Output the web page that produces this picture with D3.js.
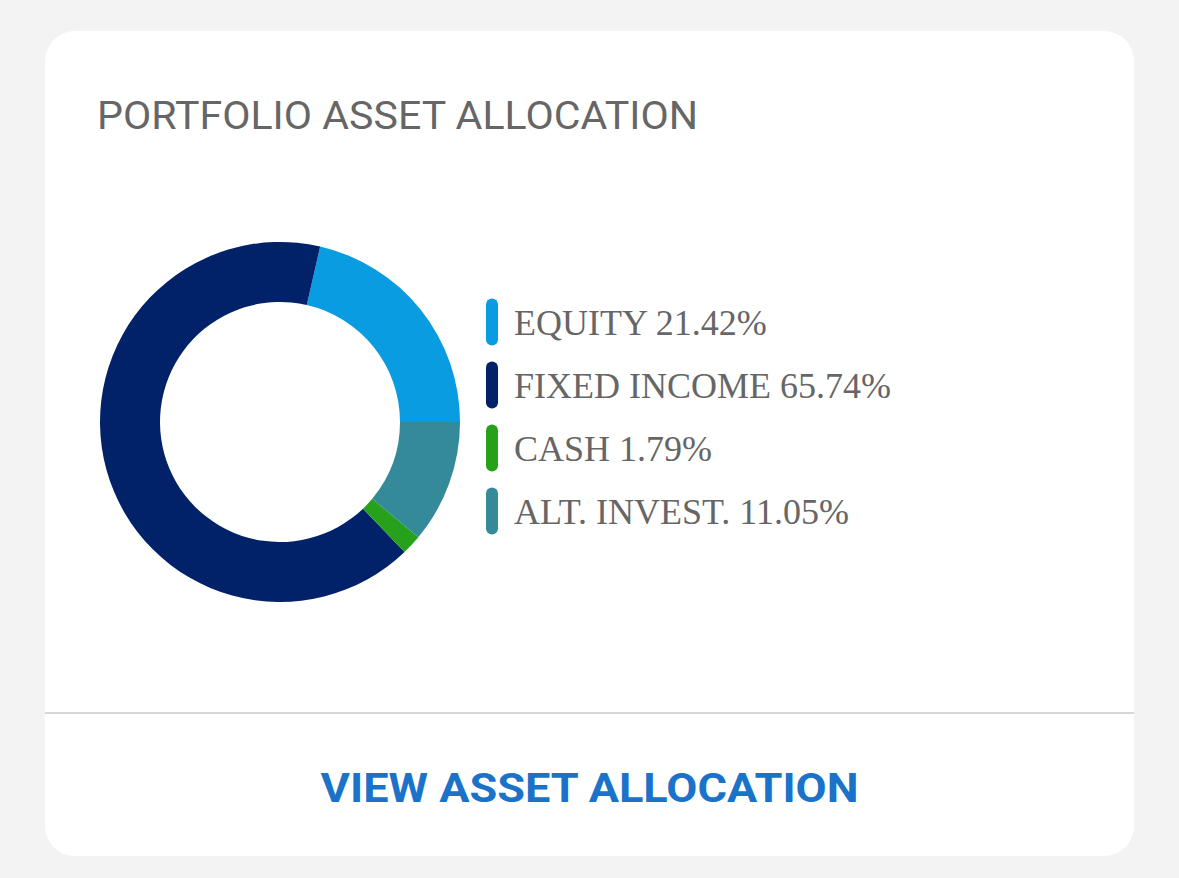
<!DOCTYPE html>
<html>
<head>
<meta charset="utf-8">
<script src="https://cdn.jsdelivr.net/npm/d3@7"></script>
<style>
    html, body { margin: 0; padding: 0; background: #f3f3f3; }
    svg { display: block; }
</style>
</head>
<body>
<div id="chart"></div>
<script>
// asset allocation data
const categories = ['EQUITY', 'FIXED INCOME', 'CASH', 'ALT. INVEST.'];
const percents = [21.42, 65.74, 1.79, 11.05];
const colors = ['#0a9ce0', '#012169', '#27a01b', '#358a9a'];

const width = 1179;
const height = 878;
const card = {x: 45, y: 31, w: 1089, h: 825, r: 30};

const svg = d3.select('#chart').append('svg')
    .attr('width', width)
    .attr('height', height);

svg.append('rect')
    .attr('x', card.x)
    .attr('y', card.y)
    .attr('width', card.w)
    .attr('height', card.h)
    .attr('rx', card.r)
    .attr('fill', '#ffffff');

svg.append('text')
    .attr('x', 97)
    .attr('y', 129)
    .attr('fill', '#666666')
    .attr('font-family', 'Roboto, "Liberation Sans", sans-serif')
    .attr('font-size', 39)
    .attr('textLength', 601)
    .attr('lengthAdjust', 'spacingAndGlyphs')
    .text('PORTFOLIO ASSET ALLOCATION');

// donut, drawn counter-clockwise from 3 o'clock
const data = categories.map((c, i) => ({name: c, value: percents[i], color: colors[i]}));

const pie = d3.pie()
    .value(d => d.value)
    .sort(null)
    .startAngle(Math.PI / 2)
    .endAngle(Math.PI / 2 - 2 * Math.PI);

const arc = d3.arc()
    .innerRadius(120)
    .outerRadius(180);

const donut = svg.append('g')
    .attr('transform', 'translate(280,422)');

donut.selectAll('path')
    .data(pie(data))
    .join('path')
    .attr('d', arc)
    .attr('fill', d => d.data.color);

// legend
const legendY = d3.scalePoint()
    .domain(categories)
    .range([322, 511]);

const legend = svg.append('g');

const item = legend.selectAll('g')
    .data(data)
    .join('g')
    .attr('transform', d => 'translate(486,' + legendY(d.name) + ')');

item.append('rect')
    .attr('x', 0)
    .attr('y', -23.5)
    .attr('width', 12)
    .attr('height', 47)
    .attr('rx', 6)
    .attr('fill', d => d.color);

item.append('text')
    .attr('x', 28)
    .attr('y', 13)
    .attr('fill', '#666666')
    .attr('font-family', '"Liberation Serif", "Times New Roman", serif')
    .attr('font-size', 36)
    .text(d => d.name + ' ' + d3.format('.2f')(d.value) + '%');

// divider and link
svg.append('rect')
    .attr('x', card.x)
    .attr('y', 712)
    .attr('width', card.w)
    .attr('height', 2)
    .attr('fill', '#d6d6d6');

svg.append('text')
    .attr('x', card.x + card.w / 2)
    .attr('y', 802)
    .attr('text-anchor', 'middle')
    .attr('fill', '#1a73c9')
    .attr('font-family', 'Roboto, "Liberation Sans", sans-serif')
    .attr('font-weight', 'bold')
    .attr('font-size', 41)
    .attr('textLength', 538)
    .attr('lengthAdjust', 'spacingAndGlyphs')
    .text('VIEW ASSET ALLOCATION');
</script>
</body>
</html>
